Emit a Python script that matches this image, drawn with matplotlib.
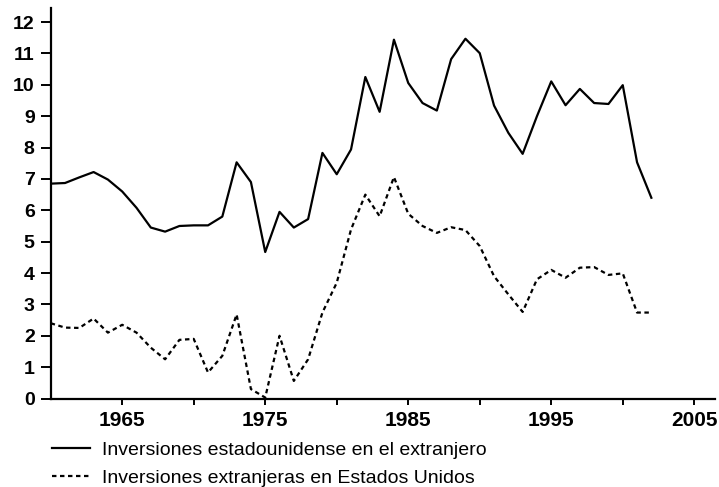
import numpy as np
import matplotlib
matplotlib.use("Agg")
import matplotlib.pyplot as plt

plt.rcParams['font.family'] = ['Liberation Sans', 'DejaVu Sans']

years = list(range(1960, 2003))

# inversiones estadounidenses en el extranjero
salida = [6.85, 6.87, 7.05, 7.22, 6.98, 6.6, 6.08, 5.45, 5.32, 5.5,
          5.52, 5.52, 5.8, 7.53, 6.9, 4.67, 5.95, 5.45, 5.72, 7.83,
          7.15, 7.94, 10.25, 9.14, 11.44, 10.06, 9.42, 9.18, 10.82, 11.47,
          11.01, 9.34, 8.47, 7.8, 9.0, 10.11, 9.35, 9.87, 9.42, 9.39,
          9.99, 7.53, 6.4]

# inversiones extranjeras en EE.UU.
entrada = [2.4, 2.26, 2.25, 2.55, 2.1, 2.35, 2.1, 1.62, 1.25, 1.87,
           1.9, 0.83, 1.36, 2.68, 0.3, 0.03, 2.0, 0.56, 1.25, 2.74,
           3.69, 5.39, 6.5, 5.81, 7.06, 5.89, 5.5, 5.28, 5.46, 5.37,
           4.86, 3.9, 3.32, 2.76, 3.8, 4.1, 3.85, 4.17, 4.19, 3.94,
           3.99, 2.74, 2.74]

labels = ['Inversiones estadounidense en el extranjero',
          'Inversiones extranjeras en Estados Unidos']

fig = plt.figure(figsize=(7.19, 4.87), dpi=100)
ax = fig.add_axes([50.7/719, 1 - 398.5/487, (715 - 50.7)/719, (398.5 - 8)/487])

ax.plot(years, salida, color='black', lw=1.6, label=labels[0])
ax.plot(years, entrada, color='black', lw=1.6, linestyle=(0, (2.0, 1.6)),
        label=labels[1])

ax.set_xlim(1960, 2006.45)
ax.set_ylim(0, 12.45)
ax.set_yticks(range(0, 13))
ax.set_xticks([1965, 1975, 1985, 1995, 2005])
ax.set_xticks([1970, 1980, 1990, 2000], minor=True)

for s in ['top', 'right']:
    ax.spines[s].set_visible(False)
for s in ['left', 'bottom']:
    ax.spines[s].set_linewidth(1.6)

ax.tick_params(axis='y', which='both', direction='out', length=7, width=1.4,
               labelsize=14, pad=4.5)
ax.tick_params(axis='x', which='both', direction='out', length=4.5, width=1.4,
               labelsize=15, pad=4.5)
for t in ax.get_xticklabels() + ax.get_yticklabels():
    t.set_fontweight('bold')

fig.legend(loc='upper left', bbox_to_anchor=(52/719, 1 - 441/487),
           frameon=False, fontsize=14, handlelength=1.95, labelspacing=0.55,
           handletextpad=0.6, borderaxespad=0, borderpad=0)

fig.savefig('out.png', dpi=100)
